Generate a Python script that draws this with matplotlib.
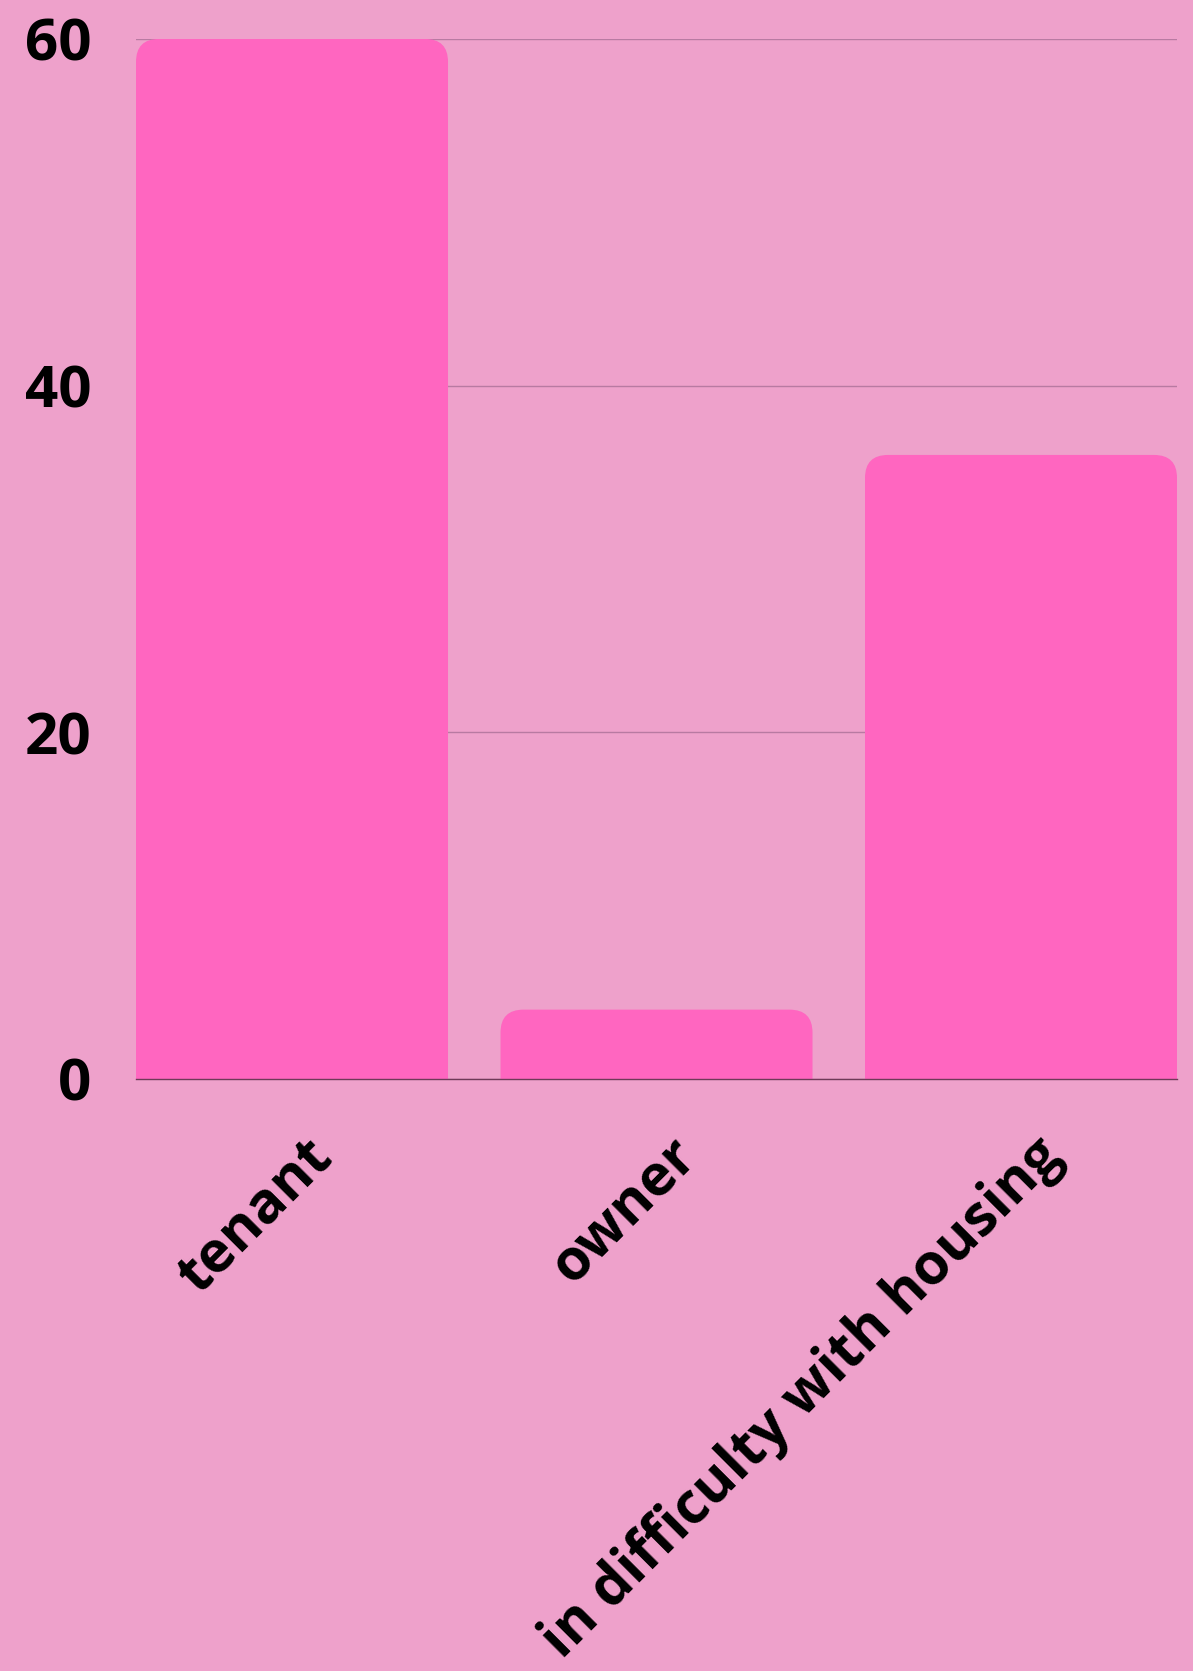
import matplotlib
matplotlib.use("Agg")
import matplotlib.pyplot as plt
import matplotlib.transforms as mtransforms
from matplotlib.patches import FancyBboxPatch

categories = ["tenant", "owner", "in difficulty with housing"]
values = [60, 4, 36]
yticks = [0, 20, 40, 60]

BG = "#EEA1CB"
BAR = "#FF66C0"
GRID = "#B87AA2"
BASE = "#6E3A58"

plt.rcParams['font.family'] = ['Open Sans', 'DejaVu Sans']

fig = plt.figure(figsize=(11.93, 16.71), dpi=100, facecolor=BG)
ax = fig.add_axes([0.114, 0.3543, 0.8726, 0.6224])
ax.set_facecolor(BG)

w = 0.856
x = list(range(len(categories)))
bars = ax.bar(x, values, width=w, color=BAR, zorder=2)
ax.set_xlim(-w / 2, len(categories) - 1 + w / 2)
ax.set_ylim(0, 60)

# replace bars with top-rounded versions
fig.canvas.draw()
bbox = ax.get_window_extent()
px_per_x = bbox.width / (ax.get_xlim()[1] - ax.get_xlim()[0])
px_per_y = bbox.height / (ax.get_ylim()[1] - ax.get_ylim()[0])
r_px = 23
rx = r_px / px_per_x
aspect = (r_px / px_per_y) / rx
for b in bars:
    x0 = b.get_x()
    h = b.get_height()
    b.set_visible(False)
    extra = 5
    p = FancyBboxPatch((x0, -extra), b.get_width(), h + extra,
                       boxstyle=f"round,pad=0,rounding_size={rx}",
                       mutation_aspect=aspect, facecolor=BAR, edgecolor='none',
                       zorder=2, clip_on=True)
    ax.add_patch(p)
    p.set_clip_path(ax.patch)

ax.set_yticks(yticks)
ax.set_yticklabels([str(t) for t in yticks], fontsize=42, fontweight='bold')
ax.yaxis.grid(True, color=GRID, linewidth=1, zorder=0)
ax.set_axisbelow(True)
ax.tick_params(axis='y', length=0, pad=32)
ax.tick_params(axis='x', length=0, pad=20)
ax.set_xticks(x)
ax.set_xticklabels(categories, fontsize=41, fontweight='bold', rotation=45,
                   ha='right', va='center', rotation_mode='anchor')
offset = mtransforms.ScaledTranslation(32 / 100, -41 / 100, fig.dpi_scale_trans)
for lab in ax.get_xticklabels():
    lab.set_transform(lab.get_transform() + offset)
for s in ['top', 'right', 'left']:
    ax.spines[s].set_visible(False)
ax.spines['bottom'].set_color(BASE)
ax.spines['bottom'].set_linewidth(1)
ax.spines['bottom'].set_zorder(3)

fig.savefig("out.png", dpi=100, facecolor=BG)
